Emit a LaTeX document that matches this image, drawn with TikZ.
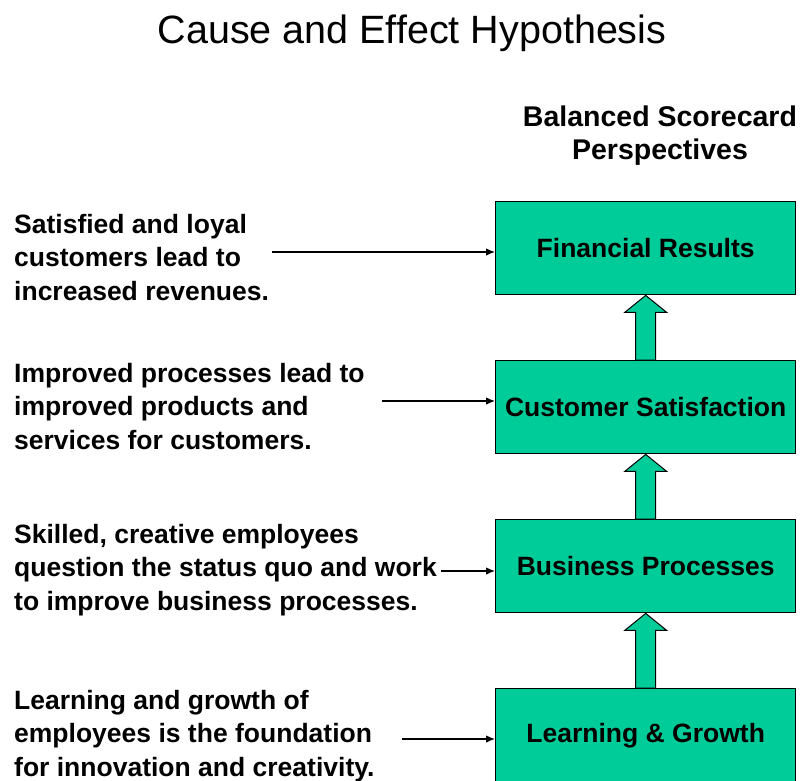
\documentclass[tikz,border=0pt]{standalone}
\usepackage{fontspec}
\setmainfont{Liberation Sans}
\usetikzlibrary{arrows.meta,calc}
\definecolor{boxgreen}{RGB}{0,204,153}
\begin{document}
\begin{tikzpicture}[x=1pt,y=-1pt,
  persp/.style={draw=black, line width=1.4pt, fill=boxgreen, minimum width=300pt,
    minimum height=93pt, anchor=north west, inner sep=0pt,
    font=\fontsize{26.5}{30}\selectfont\bfseries},
  note/.style={anchor=north west, align=left, inner sep=0pt,
    font=\fontsize{26.5}{33.5}\selectfont\bfseries},
  link/.style={draw=black, line width=1.2pt, -{Latex[length=9pt,width=7.5pt]}},
  upblock/.style={draw=black, line width=1pt, fill=boxgreen}]
\useasboundingbox (0,0) rectangle (808,780);

% title and column heading
\node[anchor=base, font=\fontsize{39.5}{44}\selectfont] (title) at (412,43) {Cause and Effect Hypothesis};
\node[anchor=base, align=center, font=\fontsize{28.5}{33}\selectfont\bfseries] (head) at (660,159)
  {Balanced Scorecard\\Perspectives};

% the four perspectives
\node[persp] (fin) at (495,201) {Financial Results};
\node[persp] (cus) at (495,360) {Customer Satisfaction};
\node[persp] (bus) at (495,519) {Business Processes};
\node[persp] (lrn) at (495,688) {Learning \& Growth};

% block arrows between perspectives
\foreach \lo/\hi in {cus/fin, bus/cus, lrn/bus}{
  \path (\lo.north) coordinate (b) (\hi.south) coordinate (t);
  \draw[upblock] ($(b)+(-10,0)$) -- ($(t)+(-10,17)$) -- ($(t)+(-21,17)$) -- (t)
     -- ($(t)+(21,17)$) -- ($(t)+(10,17)$) -- ($(b)+(10,0)$) -- cycle;
}

% hypotheses
\node[note] (n1) at (14,214) {Satisfied and loyal\\customers lead to\\increased revenues.};
\node[note] (n2) at (14,363) {Improved processes lead to\\improved products and\\services for customers.};
\node[note] (n3) at (14,524) {Skilled, creative employees\\question the status quo and work\\to improve business processes.};
\node[note] (n4) at (14,690) {Learning and growth of\\employees is the foundation\\for innovation and creativity.};

\coordinate (s1) at (272,252);
\coordinate (s2) at (382,401);
\coordinate (s3) at (441,571);
\coordinate (s4) at (402,739);
\draw[link] (s1) -- (s1 -| fin.west);
\draw[link] (s2) -- (s2 -| cus.west);
\draw[link] (s3) -- (s3 -| bus.west);
\draw[link] (s4) -- (s4 -| lrn.west);
\end{tikzpicture}
\end{document}
